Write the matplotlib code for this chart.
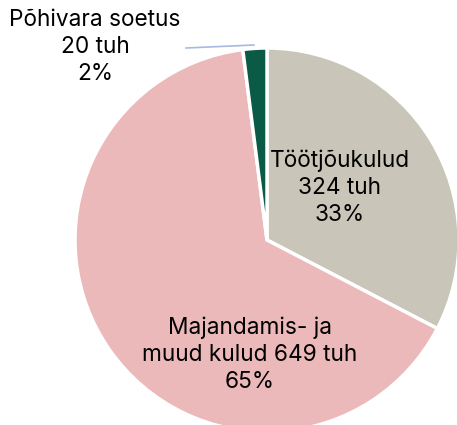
import matplotlib.pyplot as plt

# data
categories = ["Töötjõukulud", "Majandamis- ja\nmuud kulud", "Põhivara soetus"]
values = [324, 649, 20]
percents = ["33%", "65%", "2%"]
colors = ["#C9C5B8", "#EBB9B9", "#0B5A45"]

plt.rcParams['font.family'] = ['Inter', 'DejaVu Sans']

fig = plt.figure(figsize=(4.57, 4.25), dpi=100)
ax = fig.add_axes([0, 0, 1, 1])

# pie in pixel coords (center 267,240 from top)
cx, cy, r = 267, 425 - 240, 192
ax.pie(values, colors=colors, startangle=90, counterclock=False,
       center=(cx, cy), radius=r, frame=True,
       wedgeprops=dict(edgecolor='white', linewidth=2.5))
ax.set_xlim(0, 457)
ax.set_ylim(0, 425)
ax.set_aspect('equal')
ax.axis('off')

fs = 16.3
ls = 1.3
ax.text(340, 425 - 188, f"Töötjõukulud\n{values[0]} tuh\n{percents[0]}",
        ha='center', va='center', fontsize=fs, linespacing=ls)
ax.text(250, 425 - 355, f"Majandamis- ja\nmuud kulud {values[1]} tuh\n{percents[1]}",
        ha='center', va='center', fontsize=fs, linespacing=ls)
ax.text(95, 425 - 47, f"Põhivara soetus\n{values[2]} tuh\n{percents[2]}",
        ha='center', va='center', fontsize=fs, linespacing=ls)

# leader line for small slice
ax.plot([186, 254], [425 - 48, 425 - 45], color='#A9B9E3', lw=1.2)

fig.savefig("out.png", dpi=100)
